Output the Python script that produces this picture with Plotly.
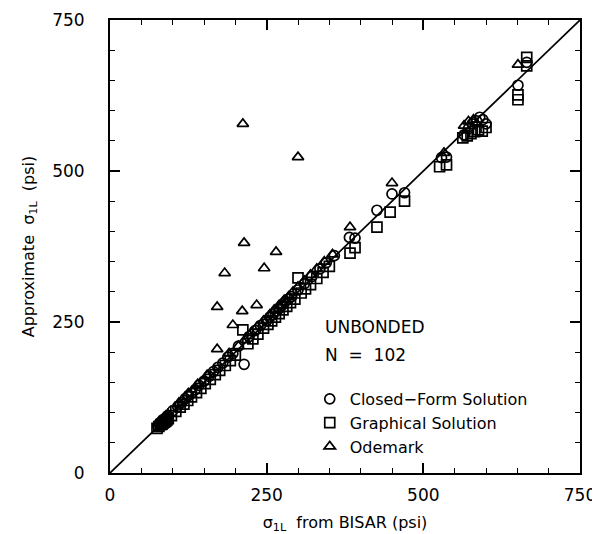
import plotly.graph_objects as go

# Closed-Form Solution (circles)
closed_x = [76, 79, 82, 84, 86, 88, 90, 92,
            100, 108, 115, 120, 125, 130, 136, 142, 150, 158, 165, 172,
            180, 188, 196, 214, 205, 222, 232, 240, 250, 255,
            260, 265, 270, 275, 280, 285, 290, 300, 310, 322,
            335, 345, 358, 382, 391, 426, 450, 470, 529, 537,
            565, 572, 578, 585, 590, 595, 600, 651, 665]
closed_y = [78, 82, 84, 88, 85, 90, 92, 95,
            103, 110, 117, 123, 128, 132, 138, 145, 152, 160, 168, 175,
            182, 192, 198, 180, 210, 226, 236, 244, 252, 258,
            262, 268, 272, 278, 284, 288, 292, 303, 313, 325,
            338, 348, 360, 390, 389, 435, 462, 464, 522, 523,
            560, 570, 578, 583, 589, 585, 578, 642, 680]

# Graphical Solution (squares)
graph_x = [75, 78, 81, 83, 85, 87, 89, 91, 93,
           98, 105, 112, 118, 124, 130, 138, 145, 152, 160, 168,
           175, 184, 192, 200, 212, 220, 228, 236, 245, 252,
           258, 264, 270, 276, 282, 288, 295, 300, 305, 312,
           320, 330, 340, 350, 383, 391, 426, 447, 470, 526,
           537, 563, 570, 576, 582, 588, 594, 600, 651, 651, 665, 665]
graph_y = [74, 77, 80, 81, 83, 84, 86, 88, 90,
           95, 102, 109, 114, 120, 126, 133, 140, 148, 155, 163,
           170, 178, 186, 195, 237, 214, 222, 230, 240, 246,
           252, 258, 264, 270, 276, 282, 288, 323, 298, 305,
           312, 322, 332, 342, 364, 373, 407, 432, 450, 507,
           510, 555, 558, 562, 565, 568, 566, 572, 626, 618, 688, 674]

# Odemark (triangles)
odem_x = [77, 80, 83, 86, 89, 92,
          110, 125, 140, 155, 190, 205, 215, 225, 235, 245,
          255, 262, 270, 278, 285, 292, 300, 310, 320, 330,
          342, 355, 383, 450, 533, 565, 572, 580, 651,
          212, 300, 214, 265, 246, 183, 171, 211, 234, 196, 171]
odem_y = [82, 85, 88, 91, 94, 97,
          116, 132, 147, 162, 198, 210, 220, 232, 242, 252,
          262, 270, 278, 286, 292, 300, 308, 318, 328, 338,
          350, 362, 407, 480, 530, 575, 582, 585, 676,
          578, 523, 381, 366, 339, 331, 275, 268, 278, 245, 205]

line_x = [0, 750]
line_y = [0, 750]

tick_vals = [0, 250, 500, 750]
tick_text = ["0", "250", "500", "750"]

FONT = "DejaVu Sans"
mk = dict(size=10, color="black", line=dict(width=1.7, color="black"))

fig = go.Figure()
fig.add_trace(go.Scatter(x=line_x, y=line_y, mode="lines",
                         line=dict(color="black", width=1.7),
                         showlegend=False, hoverinfo="skip"))
fig.add_trace(go.Scatter(x=closed_x, y=closed_y, mode="markers",
                         name="Closed\u2212Form Solution",
                         marker=dict(symbol="circle-open", **mk)))
fig.add_trace(go.Scatter(x=graph_x, y=graph_y, mode="markers",
                         name="Graphical Solution",
                         marker=dict(symbol="square-open", **mk)))
fig.add_trace(go.Scatter(x=odem_x, y=odem_y, mode="markers",
                         name="Odemark",
                         marker=dict(symbol="triangle-up-open", **mk)))

axis_common = dict(
    range=[0, 750], tickvals=tick_vals, ticktext=tick_text,
    ticks="inside", ticklen=10, tickwidth=1.5, tickcolor="black",
    showline=True, linecolor="black", linewidth=2, mirror="ticks",
    showgrid=False, zeroline=False, automargin=False,
    tickfont=dict(family=FONT, size=17, color="black"),
    minor=dict(dtick=50, ticks="inside", ticklen=5, tickwidth=1.2,
               tickcolor="black", showgrid=False),
)

fig.update_layout(
    width=592, height=526,
    margin=dict(l=102, r=20, t=12, b=61),
    paper_bgcolor="white", plot_bgcolor="white",
    font=dict(family=FONT, color="black"),
    xaxis=dict(axis_common, ticklabelstandoff=6,
               title=dict(text="\u03c3<sub>1L</sub>  from BISAR (psi)",
                          font=dict(family=FONT, size=16), standoff=12)),
    yaxis=dict(axis_common, ticklabelstandoff=20,
               title=dict(text="Approximate  \u03c3<sub>1L</sub>  (psi)",
                          font=dict(family=FONT, size=16), standoff=14)),
    legend=dict(x=0.425, y=0.201, xanchor="left", yanchor="top",
                bgcolor="rgba(0,0,0,0)", itemwidth=30,
                font=dict(family=FONT, size=16, color="black"),
                tracegroupgap=0),
    annotations=[
        dict(text="UNBONDED", x=0.453, y=0.322, xref="paper", yref="paper",
             xanchor="left", yanchor="middle", showarrow=False,
             font=dict(family=FONT, size=17)),
        dict(text="N  =  102", x=0.453, y=0.26, xref="paper", yref="paper",
             xanchor="left", yanchor="middle", showarrow=False,
             font=dict(family=FONT, size=17)),
    ],
)

fig.write_html("out.html")
